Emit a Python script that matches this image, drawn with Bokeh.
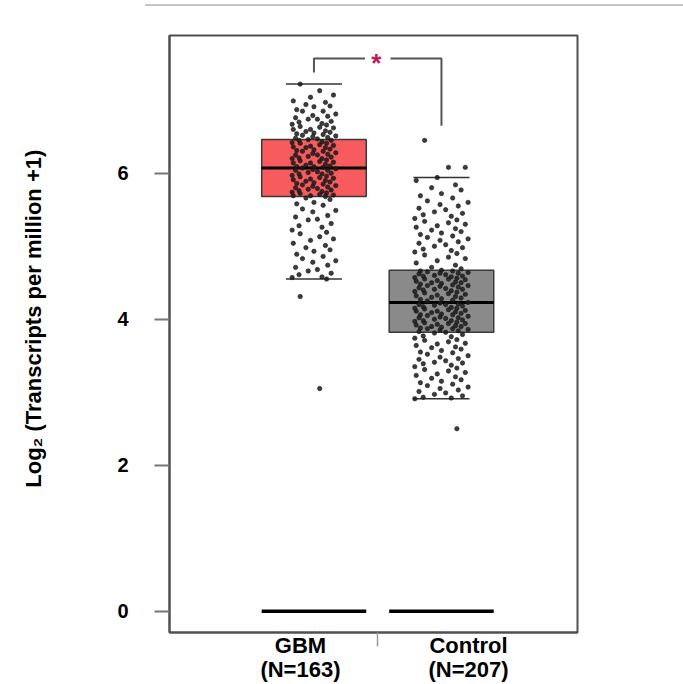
from bokeh.plotting import figure
from bokeh.models import Range1d, FixedTicker, Label, ColumnDataSource, LinearAxis, Div
from bokeh.layouts import column
from bokeh.embed import file_html
from bokeh.resources import INLINE

# ---------------- data ----------------
groups = ["GBM", "Control"]
group_counts = ["(N=163)", "(N=207)"]
group_pos = [1, 2]
box_colors = ["#f85b5d", "#8a8a8a"]
q1 = [5.68, 3.82]
median = [6.07, 4.23]
q3 = [6.46, 4.67]
whisker_low = [4.55, 2.91]
whisker_high = [7.22, 5.94]
zero_level = [0, 0]
y_ticks = [0, 2, 4, 6]
y_title = "Log\u2082 (Transcripts per million +1)"
significance = "*"

gbm_tpm = [
    7.22, 7.13, 7.07, 7.04, 6.99, 6.97, 6.94, 6.92, 6.91, 6.87,
    6.85, 6.85, 6.81, 6.79, 6.78, 6.76, 6.74, 6.74, 6.71, 6.70,
    6.68, 6.67, 6.66, 6.64, 6.63, 6.62, 6.60, 6.60, 6.58, 6.57,
    6.56, 6.55, 6.54, 6.53, 6.52, 6.51, 6.50, 6.49, 6.48, 6.47,
    6.46, 6.45, 6.45, 6.43, 6.42, 6.41, 6.41, 6.39, 6.38, 6.37,
    6.36, 6.35, 6.35, 6.33, 6.32, 6.31, 6.30, 6.30, 6.28, 6.27,
    6.26, 6.25, 6.25, 6.23, 6.22, 6.21, 6.20, 6.20, 6.18, 6.17,
    6.16, 6.15, 6.14, 6.14, 6.12, 6.11, 6.10, 6.09, 6.09, 6.08,
    6.07, 6.06, 6.05, 6.04, 6.04, 6.02, 6.01, 6.00, 5.99, 5.99,
    5.97, 5.96, 5.95, 5.94, 5.93, 5.92, 5.91, 5.90, 5.89, 5.88,
    5.87, 5.86, 5.85, 5.84, 5.83, 5.82, 5.81, 5.80, 5.79, 5.78,
    5.77, 5.76, 5.75, 5.74, 5.73, 5.72, 5.71, 5.70, 5.69, 5.69,
    5.68, 5.66, 5.64, 5.60, 5.58, 5.56, 5.51, 5.49, 5.47, 5.42,
    5.40, 5.37, 5.36, 5.31, 5.28, 5.26, 5.22, 5.19, 5.17, 5.13,
    5.10, 5.08, 5.04, 5.01, 4.98, 4.95, 4.93, 4.89, 4.86, 4.83,
    4.80, 4.78, 4.74, 4.71, 4.68, 4.66, 4.63, 4.61, 4.58, 4.57,
    4.55, 4.31, 3.05,
]

control_tpm = [
    6.45, 6.08, 6.08,
    5.94, 5.90, 5.84, 5.80, 5.77, 5.72, 5.69, 5.66, 5.62, 5.60,
    5.57, 5.55, 5.52, 5.50, 5.47, 5.45, 5.43, 5.41, 5.38, 5.36,
    5.34, 5.32, 5.30, 5.28, 5.26, 5.24, 5.22, 5.20, 5.18, 5.16,
    5.14, 5.12, 5.10, 5.08, 5.06, 5.04, 5.02, 5.00, 4.98, 4.96,
    4.94, 4.92, 4.90, 4.88, 4.85, 4.83, 4.80, 4.77, 4.74, 4.71,
    4.69,
    4.67, 4.66, 4.66, 4.65, 4.64, 4.63, 4.63, 4.62, 4.61, 4.60,
    4.59, 4.59, 4.58, 4.57, 4.56, 4.55, 4.55, 4.54, 4.53, 4.52,
    4.51, 4.50, 4.50, 4.49, 4.48, 4.47, 4.46, 4.46, 4.45, 4.44,
    4.43, 4.42, 4.41, 4.41, 4.40, 4.39, 4.38, 4.37, 4.36, 4.35,
    4.34, 4.33, 4.32, 4.31, 4.30, 4.29, 4.28, 4.27, 4.26, 4.25,
    4.23,
    4.22, 4.21, 4.20, 4.20, 4.19, 4.18, 4.17, 4.16, 4.15, 4.15,
    4.14, 4.13, 4.12, 4.11, 4.11, 4.10, 4.09, 4.08, 4.07, 4.06,
    4.06, 4.05, 4.04, 4.03, 4.02, 4.02, 4.01, 4.00, 3.99, 3.98,
    3.98, 3.97, 3.96, 3.95, 3.94, 3.94, 3.93, 3.92, 3.91, 3.90,
    3.90, 3.89, 3.88, 3.87, 3.87, 3.86, 3.85, 3.84, 3.83, 3.82,
    3.81, 3.79, 3.77, 3.76, 3.74, 3.72, 3.71, 3.69, 3.67, 3.66,
    3.64, 3.62, 3.61, 3.59, 3.57, 3.55, 3.54, 3.52, 3.50, 3.48,
    3.46, 3.45, 3.43, 3.41, 3.40, 3.39, 3.37, 3.35, 3.33, 3.31,
    3.29, 3.27, 3.25, 3.23, 3.21, 3.19, 3.17, 3.15, 3.13, 3.11,
    3.09, 3.07, 3.05, 3.03, 3.01, 2.99, 2.97, 2.95, 2.93, 2.92,
    2.91, 2.50,
]

# deterministic horizontal jitter pattern (presentation only)
JITTER = [-0.12, 0.05, 0.17, -0.03, -0.18, 0.10, -0.07, 0.14, 0.00, -0.15,
          0.08, -0.10, 0.19, -0.01, 0.12, -0.16, 0.03, -0.05, 0.15, -0.13,
          0.07, -0.19, 0.11]
JITTER_SCALE = [0.9, 1.1]

FONT = "Liberation Sans"
BOX_HALF = 0.41
CAP_HALF = 0.22
LABEL_X = [0.894, 2.212]

# thin grey rule across the top of the picture
top_rule = Div(text="", width=538, height=2, margin=(4, 0, 2, 145),
               styles={"background-color": "#c6c6c6"})

p = figure(width=683, height=676,
           x_range=Range1d(-0.133, 3.067), y_range=Range1d(-0.292, 7.886),
           output_backend="svg", toolbar_location=None,
           min_border_left=169, min_border_right=106,
           min_border_top=27, min_border_bottom=52, margin=(0, 0, 0, 0))
p.xgrid.visible = False
p.ygrid.visible = False
p.outline_line_color = "#505050"
p.outline_line_width = 2
p.background_fill_color = "white"
p.border_fill_color = "white"

# boxes
box_src = ColumnDataSource(dict(
    pos=group_pos,
    left=[g - BOX_HALF for g in group_pos],
    right=[g + BOX_HALF for g in group_pos],
    q1=q1, q3=q3, med=median, wl=whisker_low, wh=whisker_high,
    cl=[g - CAP_HALF for g in group_pos], cr=[g + CAP_HALF for g in group_pos],
    color=box_colors, zero=zero_level,
))
p.quad(left="left", right="right", bottom="q1", top="q3", fill_color="color",
       line_color="#3a3a3a", line_width=1.5, source=box_src)
p.segment(x0="left", x1="right", y0="med", y1="med", line_color="black",
          line_width=3, source=box_src)
p.segment(x0="cl", x1="cr", y0="wh", y1="wh", line_color="#333333",
          line_width=1.5, source=box_src)
p.segment(x0="cl", x1="cr", y0="wl", y1="wl", line_color="#333333",
          line_width=1.5, source=box_src)
p.segment(x0="left", x1="right", y0="zero", y1="zero", line_color="black",
          line_width=3.5, source=box_src)

# jittered points
for gi, vals in enumerate([gbm_tpm, control_tpm]):
    xs = [group_pos[gi] + JITTER[i % len(JITTER)] * JITTER_SCALE[gi]
          for i in range(len(vals))]
    p.scatter(x=xs, y=vals, size=4.4, fill_color="#1a1a1a",
              line_color="#1a1a1a", fill_alpha=0.85, line_alpha=0.6)

# significance bracket
top_y = max(whisker_high) + 0.35
left_bottom = whisker_high[0] + 0.16
right_bottom = max(control_tpm) + 0.2
mid = (group_pos[0] + group_pos[1]) / 2
p.line(x=[group_pos[0], group_pos[0], mid - 0.1], y=[left_bottom, top_y, top_y],
       line_color="#555555", line_width=2)
p.line(x=[mid + 0.1, group_pos[1], group_pos[1]], y=[top_y, top_y, right_bottom],
       line_color="#555555", line_width=2)
p.add_layout(Label(x=mid - 0.01, y=top_y, text=significance, text_color="#c0185a",
                   text_font=FONT, text_font_size="26px", text_font_style="bold",
                   text_align="center", text_baseline="middle", y_offset=-4))

# y axis
p.yaxis.ticker = FixedTicker(ticks=y_ticks)
p.yaxis.axis_line_color = "#505050"
p.yaxis.axis_line_width = 2
p.yaxis.major_tick_line_color = "#777777"
p.yaxis.major_tick_line_width = 2
p.yaxis.major_tick_out = 15
p.yaxis.major_tick_in = 0
p.yaxis.minor_tick_line_color = None
p.yaxis.major_label_standoff = 26
p.yaxis.major_label_text_font = FONT
p.yaxis.major_label_text_font_style = "bold"
p.yaxis.major_label_text_font_size = "20px"
p.yaxis.major_label_text_color = "black"
p.yaxis.axis_label = "\u00a0" * 5 + y_title
p.yaxis.axis_label_text_font = FONT
p.yaxis.axis_label_text_font_style = "bold"
p.yaxis.axis_label_text_font_size = "22px"
p.yaxis.axis_label_text_color = "black"
p.yaxis.axis_label_standoff = 68

# x axis: group names + one separator tick between the groups
p.xaxis.ticker = FixedTicker(ticks=LABEL_X, minor_ticks=[mid])
p.xaxis.major_label_overrides = {x: g for x, g in zip(LABEL_X, groups)}
p.xaxis.major_label_text_font = FONT
p.xaxis.major_label_text_font_style = "bold"
p.xaxis.major_label_text_font_size = "22px"
p.xaxis.major_label_text_line_height = 1.0
p.xaxis.major_label_text_color = "black"
p.xaxis.major_label_standoff = -14
p.xaxis.axis_line_color = "#505050"
p.xaxis.axis_line_width = 2
p.xaxis.major_tick_line_color = None
p.xaxis.major_tick_out = 0
p.xaxis.major_tick_in = 0
p.xaxis.minor_tick_line_color = "#999999"
p.xaxis.minor_tick_line_width = 1.5
p.xaxis.minor_tick_out = 14
p.xaxis.minor_tick_in = 0

# second row of group labels: sample counts
count_axis = LinearAxis(ticker=FixedTicker(ticks=LABEL_X, minor_ticks=[]),
                        major_label_overrides={x: c for x, c in zip(LABEL_X, group_counts)},
                        major_label_text_font=FONT, major_label_text_font_style="bold",
                        major_label_text_font_size="22px",
                        major_label_text_line_height=1.0,
                        major_label_text_color="black", major_label_standoff=-4,
                        axis_line_color=None, major_tick_line_color=None,
                        minor_tick_line_color=None, major_tick_out=0,
                        major_tick_in=0, minor_tick_out=0, minor_tick_in=0)
p.add_layout(count_axis, "below")

layout = column(top_rule, p, spacing=0)
open("out.html", "w").write(file_html(layout, INLINE))
